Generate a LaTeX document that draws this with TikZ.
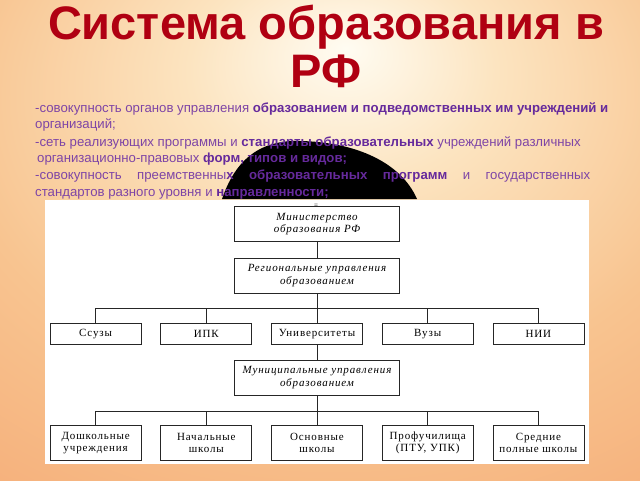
\documentclass[tikz,border=0pt]{standalone}
\usepackage{fontspec}
\setmainfont{Liberation Serif}
\setsansfont{Liberation Sans}
\newfontfamily\chartfont[LetterSpace=8]{Liberation Serif}
\usepackage{xcolor}
\usetikzlibrary{positioning, calc}
\definecolor{titlered}{HTML}{B00012}
\definecolor{textpurple}{HTML}{7E45A6}
\definecolor{deeppurple}{HTML}{662A9C}
\definecolor{glowa}{HTML}{FFFCF2}
\definecolor{glowb}{HTML}{FCE4C0}
\definecolor{glowc}{HTML}{F8C490}
\definecolor{glowd}{HTML}{F5AB76}
\pgfdeclareradialshading{bgglow}{\pgfpoint{2bp}{20bp}}{color(0bp)=(glowa); color(12bp)=(glowb); color(30bp)=(glowc); color(50bp)=(glowd); color(100bp)=(glowd)}

\begin{document}
\begin{tikzpicture}[x=1pt, y=-1pt]
        \tikzstyle{titletext} = [inner sep=0, anchor=base, text=titlered, font=\sffamily\bfseries\fontsize{47}{50}\selectfont]
        \tikzstyle{bullet} = [inner sep=0, anchor=base west, text=textpurple, font=\sffamily\fontsize{13.2}{15}\selectfont]
        \tikzstyle{govbox} = [rectangle, draw=black!85, line width=0.7pt, minimum width=165pt, minimum height=35pt, align=center, font=\chartfont\itshape\fontsize{11}{12.5}\selectfont]
        \tikzstyle{unitbox} = [rectangle, draw=black!85, line width=0.7pt, minimum width=91pt, minimum height=21pt, inner sep=2pt, align=center, font=\chartfont\fontsize{11}{12}\selectfont]
        \tikzstyle{link} = [draw=black!85, line width=0.7pt]
        \newcommand{\bb}[1]{\textbf{\color{deeppurple}#1}}

        \useasboundingbox (0,0) rectangle (640,480);
        \shade[shading=bgglow] (0,0) rectangle (640,480);

        \node [titletext] (title) at (326,39) {Система образования в};
        \node [titletext] (titleb) at (326,87) {РФ};

        \fill [black] (222,199) .. controls (232,170) and (250,143) .. (292,141) .. controls (350,140) and (400,160) .. (417,199) -- cycle;

        \node [bullet] (l1) at (35,112) {-совокупность органов управления \bb{образованием и подведомственных им учреждений и}};
        \node [bullet] (l2) at (35,128) {организаций;};
        \node [bullet] (l3) at (35,146) {-сеть реализующих программы и \bb{стандарты образовательных} учреждений различных};
        \node [bullet] (l4) at (37,162) {организационно-правовых \bb{форм, типов и видов;}};
        \node [bullet] (l5) at (35,179) {\makebox[555pt][s]{-совокупность преемственны\bb{х} \bb{образовательных} \bb{программ} и государственных}};
        \node [bullet] (l6) at (35,196) {стандартов разного уровня и \bb{направленности;}};

        \fill [white] (45,200) rectangle (589,464);

        \node [govbox] (min) at (317,224.2) {Министерство\\образования РФ};
        \node [inner sep=0, font=\fontsize{7}{7}\selectfont] (mark) at (316,205.5) {=};
        \node [govbox, below=15.6pt of min] (reg) {Региональные управления\\образованием};

        \node [unitbox, below=29.4pt of reg] (univ) {Университеты};
        \node [unitbox, left=19pt of univ] (ipk) {ИПК};
        \node [unitbox, left=19pt of ipk] (ssuz) {Ссузы};
        \node [unitbox, right=19pt of univ] (vuz) {Вузы};
        \node [unitbox, right=19pt of vuz] (nii) {НИИ};

        \node [govbox, below=15.3pt of univ] (mun) {Муниципальные управления\\образованием};

        \node [unitbox, minimum height=34.6pt, below=30pt of mun] (osn) {Основные\\школы};
        \node [unitbox, minimum height=34.6pt, left=19pt of osn] (nach) {Начальные\\школы};
        \node [unitbox, minimum height=34.6pt, left=19pt of nach] (dosh) {Дошкольные\\учреждения};
        \node [unitbox, minimum height=34.6pt, right=19pt of osn] (prof) {Профучилища\\(ПТУ, УПК)};
        \node [unitbox, minimum height=34.6pt, right=19pt of prof] (sred) {Средние\\полные школы};

        \coordinate (bus1) at ($(reg.south)+(0,15.2)$);
        \coordinate (bus2) at ($(mun.south)+(0,15.6)$);

        \draw [link] (min) -- (reg);
        \draw [link] (reg) -- (univ);
        \draw [link] (ssuz.north) |- (bus1) -| (nii.north);
        \draw [link] (ipk.north) -- (ipk.north |- bus1);
        \draw [link] (vuz.north) -- (vuz.north |- bus1);
        \draw [link] (univ) -- (mun);
        \draw [link] (mun) -- (osn);
        \draw [link] (dosh.north) |- (bus2) -| (sred.north);
        \draw [link] (nach.north) -- (nach.north |- bus2);
        \draw [link] (prof.north) -- (prof.north |- bus2);
    \end{tikzpicture}
\end{document}
